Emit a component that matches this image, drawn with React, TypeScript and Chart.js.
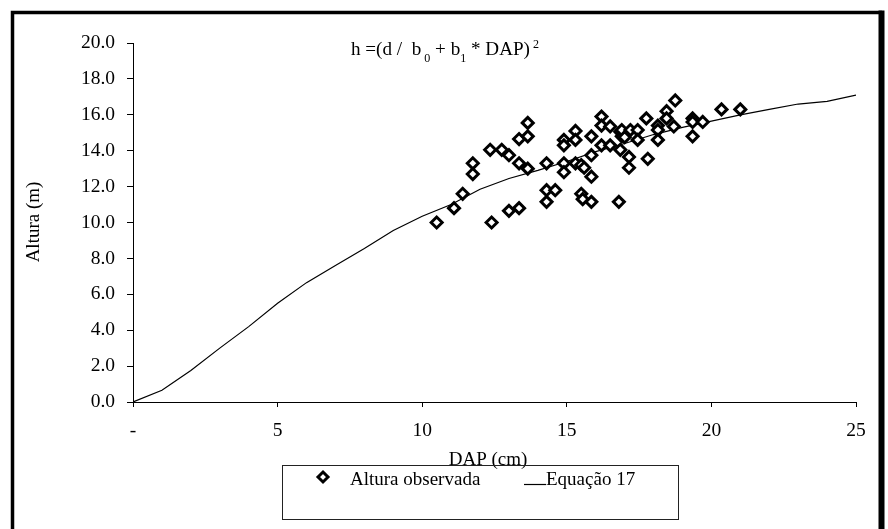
import React, { useEffect, useRef } from "react";
import { Chart, registerables } from "chart.js";

Chart.register(...registerables);

// Observed heights (Altura observada)
const dapObs = [
  10.5, 11.1, 11.4, 11.75, 11.75, 12.35, 12.4, 12.75, 13.0, 13.0, 13.35, 13.35, 13.35,
  13.65, 13.65, 13.65, 14.3, 14.3, 14.6, 14.3, 14.9, 14.9, 14.9, 14.9, 15.3, 15.3, 15.3,
  15.5, 15.6, 15.85, 15.85, 15.85, 15.5, 15.55, 15.85, 16.2, 16.2, 16.5, 16.2, 16.5, 16.8,
  16.85, 16.9, 16.85, 17.15, 17.15, 16.9, 17.2, 17.45, 17.0, 17.45, 17.75, 18.15, 18.15,
  18.15, 18.45, 18.45, 18.75, 18.7, 19.35, 19.35, 19.35, 19.7, 17.8, 20.35, 21.0,
];
const alturaObs = [
  10.0, 10.8, 11.6, 13.3, 12.7, 14.05, 10.0, 14.05, 13.75, 10.65, 10.8, 13.3, 14.65,
  15.55, 14.8, 13.0, 13.3, 11.8, 11.8, 11.15, 14.6, 14.3, 13.3, 12.8, 15.1, 14.6, 13.3,
  13.2, 13.05, 14.8, 13.75, 12.55, 11.6, 11.3, 11.15, 15.9, 15.4, 15.35, 14.3, 14.3, 11.15,
  15.05, 14.8, 14.05, 13.65, 13.05, 15.15, 15.15, 15.15, 14.75, 14.6, 15.8, 15.4, 15.15,
  14.6, 16.2, 15.8, 16.8, 15.35, 15.8, 15.6, 14.8, 15.6, 13.55, 16.3, 16.3,
];

// Fitted curve (Equação 17)
const dapCurve = [0, 1, 2, 3, 4, 5, 6, 7, 8, 9, 10, 11, 12, 13, 14, 15, 16, 17, 18, 19, 20, 21, 22, 23, 24, 25];
const alturaCurve = [
  0, 0.65, 1.75, 3.0, 4.2, 5.5, 6.65, 7.6, 8.55, 9.55, 10.35, 11.0, 11.85, 12.45, 12.9,
  13.4, 13.95, 14.4, 14.9, 15.3, 15.65, 16.0, 16.3, 16.6, 16.75, 17.1,
];

const xTicks = [0, 5, 10, 15, 20, 25];
const xTickLabels = ["-", "5", "10", "15", "20", "25"];
const yMin = 0;
const yMax = 20;
const yStep = 2;

const seriesNames = ["Altura observada", "Equação 17"];
const xTitle = "DAP (cm)";
const yTitle = "Altura (m)";

const FONT = "'Liberation Serif', 'Times New Roman', serif";

const decorPlugin = {
  id: "decor",
  afterDraw(chart: any) {
    const ctx = chart.ctx as CanvasRenderingContext2D;
    ctx.save();
    // outer frame
    ctx.strokeStyle = "#000";
    ctx.lineWidth = 3.5;
    ctx.beginPath();
    ctx.moveTo(12.5, 540);
    ctx.lineTo(12.5, 12.5);
    ctx.lineTo(882, 12.5);
    ctx.stroke();
    ctx.lineWidth = 6;
    ctx.beginPath();
    ctx.moveTo(881.5, 10.5);
    ctx.lineTo(881.5, 540);
    ctx.stroke();

    ctx.fillStyle = "#000";
    // formula title
    const main = "19px " + FONT;
    const small = "12px " + FONT;
    const pieces: [string, string, number][] = [
      ["h =(d /  b", main, 55],
      [" 0", small, 62],
      [" + b", main, 55],
      ["1", small, 62],
      [" * DAP)", main, 55],
      [" 2", small, 48],
    ];
    let total = 0;
    for (const p of pieces) {
      ctx.font = p[1];
      total += ctx.measureText(p[0]).width;
    }
    const targetW = 188;
    const sx = targetW / total;
    ctx.save();
    ctx.translate(351, 0);
    ctx.scale(sx, 1);
    let cx = 0;
    ctx.textAlign = "left";
    ctx.textBaseline = "alphabetic";
    for (const p of pieces) {
      ctx.font = p[1];
      ctx.fillText(p[0], cx, p[2]);
      cx += ctx.measureText(p[0]).width;
    }
    ctx.restore();

    // axis titles
    ctx.font = "19px " + FONT;
    ctx.textAlign = "center";
    ctx.textBaseline = "alphabetic";
    ctx.fillText(xTitle, 488, 465);
    ctx.save();
    ctx.translate(39, 222);
    ctx.rotate(-Math.PI / 2);
    ctx.fillText(yTitle, 0, 0);
    ctx.restore();

    // legend box
    ctx.strokeStyle = "#222";
    ctx.lineWidth = 1;
    ctx.strokeRect(282.5, 465.5, 396, 54);
    // marker
    ctx.lineWidth = 3;
    ctx.strokeStyle = "#000";
    ctx.fillStyle = "#fff";
    const mx = 323, my = 477, r = 5;
    ctx.beginPath();
    ctx.moveTo(mx, my - r);
    ctx.lineTo(mx + r, my);
    ctx.lineTo(mx, my + r);
    ctx.lineTo(mx - r, my);
    ctx.closePath();
    ctx.fill();
    ctx.stroke();
    ctx.fillStyle = "#000";
    ctx.textAlign = "left";
    ctx.font = "19px " + FONT;
    ctx.fillText(seriesNames[0], 350, 485);
    ctx.lineWidth = 1.2;
    ctx.beginPath();
    ctx.moveTo(524, 484.5);
    ctx.lineTo(546, 484.5);
    ctx.stroke();
    ctx.fillText(seriesNames[1], 546, 485);
    ctx.restore();
  },
};

export default function App() {
  const ref = useRef<HTMLCanvasElement | null>(null);
  useEffect(() => {
    if (!ref.current) return;
    const obs = dapObs.map((x, i) => ({ x, y: alturaObs[i] }));
    const curve = dapCurve.map((x, i) => ({ x, y: alturaCurve[i] }));
    const chart = new Chart(ref.current, {
      type: "scatter",
      data: {
        datasets: [
          {
            label: seriesNames[0],
            data: obs,
            pointStyle: "rectRot",
            pointRadius: 5.5,
            pointBorderWidth: 3,
            borderColor: "#000",
            backgroundColor: "#fff",
            showLine: false,
          },
          {
            label: seriesNames[1],
            data: curve,
            showLine: true,
            pointRadius: 0,
            borderColor: "#000",
            borderWidth: 1.2,
            backgroundColor: "#000",
            tension: 0,
          },
        ],
      },
      options: {
        animation: false,
        responsive: false,
        devicePixelRatio: 1,
        layout: { padding: { left: 0, top: 43, right: 32, bottom: 0 } },
        plugins: {
          legend: { display: false },
          tooltip: { enabled: false },
          title: { display: false },
        },
        scales: {
          x: {
            type: "linear",
            position: "bottom",
            min: 0,
            max: 25,
            afterBuildTicks: (s: any) => {
              s.ticks = xTicks.map((v) => ({ value: v }));
            },
            afterFit: (s: any) => {
              s.height = 127;
            },
            ticks: {
              callback: (v: any) => {
                const i = xTicks.indexOf(Number(v));
                return i >= 0 ? xTickLabels[i] : "";
              },
              font: { family: FONT, size: 19.5 },
              color: "#000",
              padding: 12,
              maxRotation: 0,
              autoSkip: false,
            },
            grid: {
              drawOnChartArea: false,
              drawTicks: true,
              tickLength: 5,
              tickColor: "#000",
              color: "#000",
            },
            border: { display: true, color: "#000", width: 1 },
          },
          y: {
            type: "linear",
            min: yMin,
            max: yMax,
            afterFit: (s: any) => {
              s.width = 133;
            },
            ticks: {
              stepSize: yStep,
              callback: (v: any) => Number(v).toFixed(1),
              font: { family: FONT, size: 19.5 },
              color: "#000",
              padding: 12,
            },
            grid: {
              drawOnChartArea: false,
              drawTicks: true,
              tickLength: 6,
              tickColor: "#000",
              color: "#000",
            },
            border: { display: true, color: "#000", width: 1 },
          },
        },
      },
      plugins: [decorPlugin],
    });
    return () => chart.destroy();
  }, []);
  return (
    <div
      style={{
        position: "fixed",
        left: 0,
        top: 0,
        width: 888,
        height: 529,
        background: "#fff",
      }}
    >
      <canvas ref={ref} width={888} height={529} style={{ display: "block" }} />
    </div>
  );
}
